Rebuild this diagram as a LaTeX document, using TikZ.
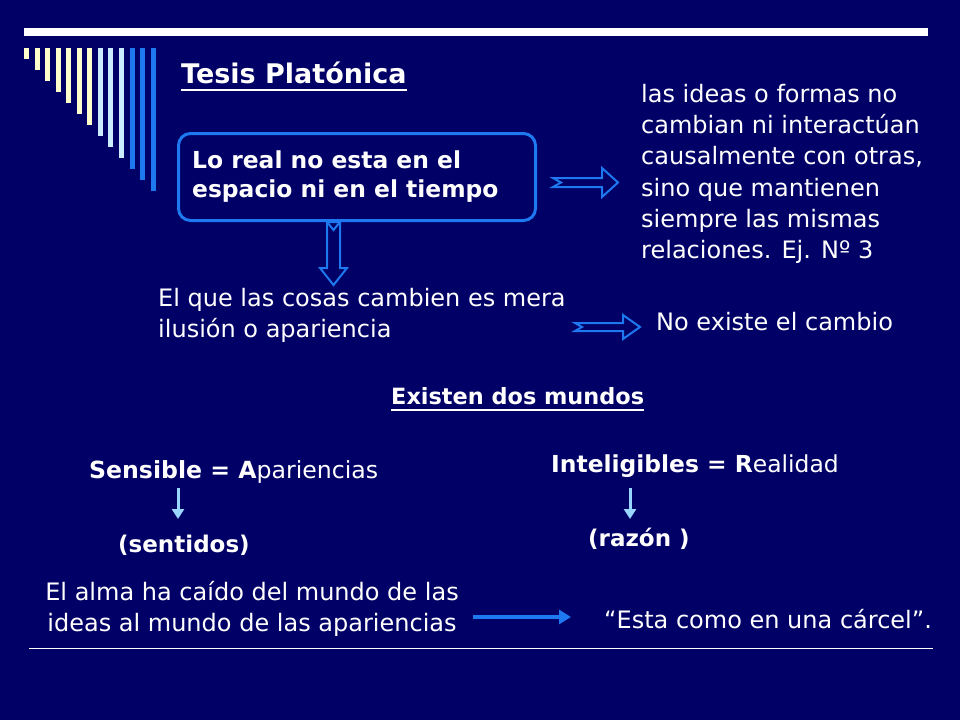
\documentclass[tikz,border=0pt]{standalone}
\usepackage{fontspec}
\setmainfont{DejaVu Sans}
\usetikzlibrary{arrows.meta}
\definecolor{bg}{RGB}{0,0,102}
\definecolor{ylw}{RGB}{255,255,204}
\definecolor{lblue}{RGB}{204,236,255}
\definecolor{mblue}{RGB}{30,120,240}
\definecolor{sblue}{RGB}{153,214,255}
\begin{document}
\begin{tikzpicture}[x=1pt,y=-1pt,
  txt/.style={text=white, inner sep=0pt, anchor=base west, font=\fontsize{24}{29}\selectfont},
  btxt/.style={txt, font=\fontsize{23}{28}\selectfont\bfseries},
  hollow/.style={draw=mblue, line width=2pt, line join=miter},
  smallarrow/.style={draw=sblue, line width=3pt, -{Triangle[length=10pt,width=12pt]}},
  longarrow/.style={draw=mblue, line width=4pt, -{Triangle[length=12pt,width=14pt]}}]
\fill[bg] (0,0) rectangle (960,720);
\useasboundingbox (0,0) rectangle (960,720);
% decoration
\fill[white] (24,28) rectangle (928,36);
\foreach \i in {0,...,6} \fill[ylw] ({24+10.55*\i},48) rectangle ({29+10.55*\i},{59+11*\i});
\foreach \i in {7,8,9} \fill[lblue] ({24+10.55*\i},48) rectangle ({29+10.55*\i},{59+11*\i});
\foreach \i in {10,11,12} \fill[mblue] ({24+10.55*\i},48) rectangle ({29+10.55*\i},{59+11*\i});
% title
\node[txt, font=\fontsize{27}{32}\selectfont\bfseries] (title) at (181,83) {Tesis Platónica};
\draw[white, line width=1.8pt] ([yshift=-7pt]title.base west) -- ([yshift=-7pt]title.base east);
% box
\node[draw=mblue, line width=3pt, rounded corners=12pt, minimum width=357pt, minimum height=87pt, anchor=north west, inner sep=0pt] (box) at (177,132) {};
\node[btxt, font=\fontsize{23.4}{28}\selectfont\bfseries] (b1) at (192,168) {Lo real no esta en el};
\node[btxt, font=\fontsize{23.4}{28}\selectfont\bfseries] (b2) at (192,197) {espacio ni en el tiempo};
% right block
\node[txt] (r1) at (641,102) {las ideas o formas no};
\node[txt] (r2) at (641,133) {cambian ni interactúan};
\node[txt] (r3) at (641,164) {causalmente con otras,};
\node[txt] (r4) at (641,196) {sino que mantienen};
\node[txt] (r5) at (641,227) {siempre las mismas};
\node[txt] (r6) at (641,258) {relaciones. Ej. Nº 3};
% hollow arrows
\draw[hollow] (553,178) -- (602,178) -- (602,168) -- (618,182.5) -- (602,197) -- (602,187) -- (553,187) -- (561,182.5) -- cycle;
\draw[hollow] (327,222) -- (340,222) -- (340,268) -- (347,268) -- (333.5,285) -- (320,268) -- (327,268) -- cycle;
\draw[hollow] (327,222) -- (333.5,230) -- (340,222);
\draw[hollow] (575,323) -- (623,323) -- (623,315) -- (640,327) -- (623,339) -- (623,331) -- (575,331) -- (582,327) -- cycle;
% middle texts
\node[txt] (m1) at (158,306) {El que las cosas cambien es mera};
\node[txt] (m2) at (158,337) {ilusión o apariencia};
\node[txt] (nc) at (656,330) {No existe el cambio};
\node[btxt, font=\fontsize{22.4}{27}\selectfont\bfseries] (ex) at (391,404) {Existen dos mundos};
\draw[white, line width=1.8pt] ([yshift=-6pt]ex.base west) -- ([yshift=-6pt]ex.base east);
% two worlds
\node[txt, font=\fontsize{23.6}{28}\selectfont] (sens) at (89,478) {\textbf{Sensible = A}pariencias};
\node[txt, font=\fontsize{23.4}{28}\selectfont] (intel) at (551,472) {\textbf{Inteligibles = R}ealidad};
\coordinate (s1) at (178,488);
\coordinate (s2) at (178,519);
\coordinate (i1) at (630,488);
\coordinate (i2) at (630,519);
\draw[smallarrow] (s1) -- (s2);
\draw[smallarrow] (i1) -- (i2);
\node[btxt] (sent) at (118,552) {(sentidos)};
\node[btxt] (raz) at (588,546) {(razón )};
% bottom
\node[txt, anchor=base] (a1) at (252,600) {El alma ha caído del mundo de las};
\node[txt, anchor=base] (a2) at (252,631) {ideas al mundo de las apariencias};
\node[txt] (car) at (604,628) {“Esta como en una cárcel”.};
\coordinate (l1) at (473,617);
\coordinate (l2) at (571,617);
\draw[longarrow] (l1) -- (l2);
\draw[white, line width=1pt] (29,648) -- (933,648);
\end{tikzpicture}
\end{document}
